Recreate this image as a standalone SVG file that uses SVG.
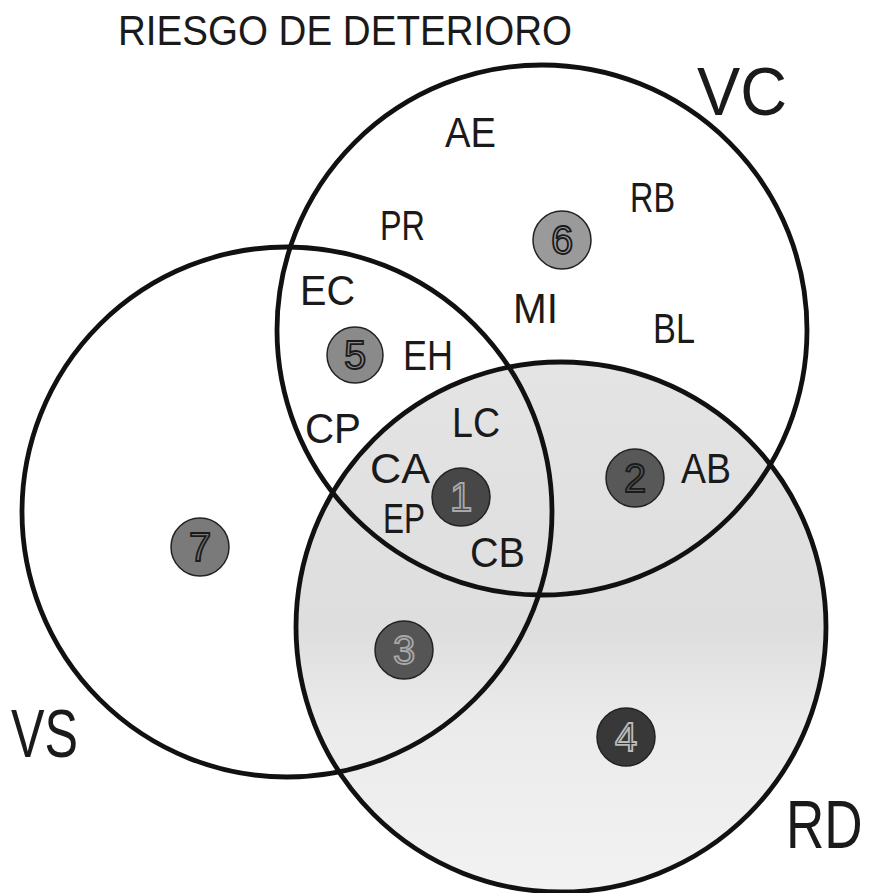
<svg xmlns="http://www.w3.org/2000/svg" width="874" height="893" viewBox="0 0 874 893">
<style>
.ring{fill:none;stroke:#111;stroke-width:4.8}
.lbl{font-family:"Liberation Sans",Arial,sans-serif;font-size:43px;fill:#1a1a1a}
.big{font-family:"Liberation Sans",Arial,sans-serif;font-size:68px;fill:#1a1a1a}
.num{font-family:"Liberation Sans",Arial,sans-serif;font-size:40px;text-anchor:middle;stroke-width:1.8;fill:none}
.dot{stroke:#222;stroke-width:1.5}
</style>
<defs>
<linearGradient id="rdg" x1="0" y1="362" x2="0" y2="893" gradientUnits="userSpaceOnUse">
<stop offset="0" stop-color="#e4e4e4"/>
<stop offset="0.5" stop-color="#dedede"/>
<stop offset="0.68" stop-color="#ebebeb"/>
<stop offset="1" stop-color="#f2f2f2"/>
</linearGradient>
</defs>
<rect width="874" height="893" fill="#ffffff"/>
<g id="fill-RD"><circle cx="561" cy="627" r="265" fill="url(#rdg)"/></g>
<g id="connectors">
<circle id="circle-VC" class="ring" cx="542" cy="330" r="265"/>
<circle id="circle-VS" class="ring" cx="287" cy="512" r="265"/>
<circle id="circle-RD" class="ring" cx="561" cy="627" r="265"/>
</g>
<g id="title"><text class="lbl" x="118" y="45" font-size="41" textLength="454" lengthAdjust="spacingAndGlyphs">RIESGO DE DETERIORO</text></g>
<g id="set-labels">
<text class="big" x="697" y="115" textLength="90" lengthAdjust="spacingAndGlyphs">VC</text>
<text class="big" x="11" y="757" textLength="67" lengthAdjust="spacingAndGlyphs">VS</text>
<text class="big" transform="translate(786,848) scale(0.78,1)" x="0" y="0">RD</text>
</g>
<g id="labels">
<text class="lbl" x="445" y="147" textLength="51" lengthAdjust="spacingAndGlyphs">AE</text>
<text class="lbl" x="630" y="212" textLength="45" lengthAdjust="spacingAndGlyphs">RB</text>
<text class="lbl" x="380" y="240" textLength="45" lengthAdjust="spacingAndGlyphs">PR</text>
<text class="lbl" x="300" y="305" textLength="55" lengthAdjust="spacingAndGlyphs">EC</text>
<text class="lbl" x="513" y="323" textLength="45" lengthAdjust="spacingAndGlyphs">MI</text>
<text class="lbl" x="653" y="343" textLength="42" lengthAdjust="spacingAndGlyphs">BL</text>
<text class="lbl" x="403" y="370" textLength="50" lengthAdjust="spacingAndGlyphs">EH</text>
<text class="lbl" x="305" y="443" textLength="56" lengthAdjust="spacingAndGlyphs">CP</text>
<text class="lbl" x="452" y="437" textLength="48" lengthAdjust="spacingAndGlyphs">LC</text>
<text class="lbl" x="370" y="483" textLength="60" lengthAdjust="spacingAndGlyphs">CA</text>
<text class="lbl" x="383" y="533" textLength="42" lengthAdjust="spacingAndGlyphs">EP</text>
<text class="lbl" x="470" y="567" textLength="55" lengthAdjust="spacingAndGlyphs">CB</text>
<text class="lbl" x="681" y="483" textLength="50" lengthAdjust="spacingAndGlyphs">AB</text>
</g>
<g id="node-6"><circle class="dot" cx="562" cy="240" r="29" fill="#9a9a9a"/><text class="num" x="562" y="254" stroke="#1a1a1a">6</text></g>
<g id="node-5"><circle class="dot" cx="355" cy="355" r="28" fill="#8a8a8a"/><text class="num" x="355" y="369" stroke="#1a1a1a">5</text></g>
<g id="node-1"><circle class="dot" cx="461" cy="497" r="29" fill="#474747"/><text class="num" x="461" y="511" stroke="#a8a8a8">1</text></g>
<g id="node-2"><circle class="dot" cx="635" cy="478" r="29" fill="#585858"/><text class="num" x="635" y="492" stroke="#1a1a1a">2</text></g>
<g id="node-7"><circle class="dot" cx="200" cy="547" r="29" fill="#7a7a7a"/><text class="num" x="200" y="561" stroke="#1a1a1a">7</text></g>
<g id="node-3"><circle class="dot" cx="404" cy="650" r="29" fill="#555555"/><text class="num" x="404" y="664" stroke="#a8a8a8">3</text></g>
<g id="node-4"><circle class="dot" cx="626" cy="737" r="29" fill="#383838"/><text class="num" x="626" y="751" stroke="#bbbbbb">4</text></g>
</svg>
